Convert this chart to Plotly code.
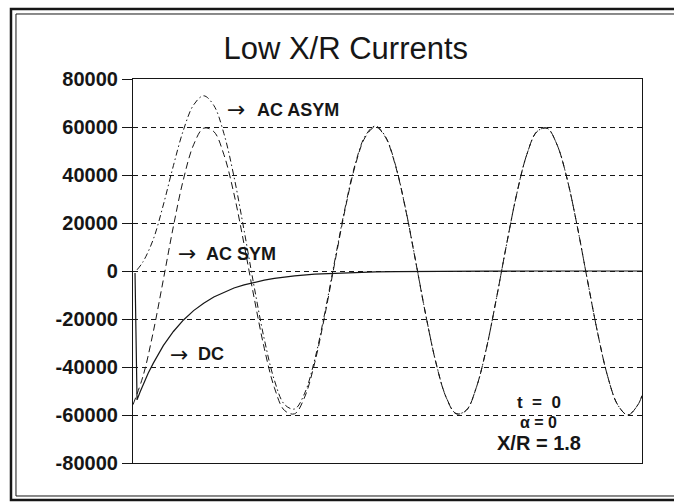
import plotly.graph_objects as go

# time in ms (60 Hz, three cycles shown)
time_ms = [0, 1, 2, 3, 4, 5, 6, 7, 8, 9, 10, 11, 12, 13, 14, 15, 16, 17, 18, 19, 20,
           21, 22, 23, 24, 25, 26, 27, 28, 29, 30, 31, 32, 33, 34, 35, 36, 37, 38, 39, 40,
           41, 42, 43, 44, 45, 46, 47, 48, 49, 50, 50.4]

ac_sym = [-55700, -43700, -25500, -3700, 18600, 38300, 52600, 59500, 58100, 48500, 32100,
          11100, -11300, -32200, -48600, -58100, -59500, -52500, -38100, -18400, 3900,
          25600, 43900, 55800, 60000, 55700, 43700, 25500, 3700, -18600, -38300,
          -52600, -59500, -58100, -48500, -32100, -11100, 11300, 32200, 48600, 58100,
          59500, 52500, 38100, 18400, -3900, -25600, -43900, -55800, -60000, -55700, -51900]

time_asym = [0.4, 1, 2, 3, 4, 5, 6, 7, 8, 9, 10, 11, 12, 13, 14, 15, 16, 17, 18, 19, 20,
             21, 22, 23, 24, 25, 26, 27, 28, 29, 30, 31, 32, 33, 34, 35, 36, 37, 38, 39, 40,
             41, 42, 43, 44, 45, 46, 47, 48, 49, 50, 50.4]

ac_asym = [500, 3900, 13100, 27500, 43900, 58800, 69200, 73000, 69000, 57300, 39300,
           16900, -6600, -28400, -45500, -55600, -57500, -50900, -36800, -17300, 4800,
           26300, 44500, 56300, 60400, 56000, 44000, 25700, 3900, -18500, -38200,
           -52500, -59400, -58000, -48500, -32100, -11100, 11300, 32200, 48600, 58100,
           59500, 52500, 38100, 18400, -3900, -25600, -43900, -55800, -60000, -55700, -51900]

time_dc = [0.2, 0.4, 0.7, 1, 1.5, 2, 3, 4, 5, 6, 7, 8, 9, 10, 11, 12, 13, 14, 15, 16,
           18, 20, 22, 24, 26, 28, 30, 35, 40, 45, 50.4]
dc = [-800, -53700, -50400, -47400, -42600, -38500, -31100, -25200, -20400, -16500,
      -13400, -10800, -8800, -7100, -5800, -4700, -3800, -3100, -2500, -2000,
      -1300, -900, -600, -400, -250, -150, -100, -40, -10, 0, 0]

y_ticks = [-80000, -60000, -40000, -20000, 0, 20000, 40000, 60000, 80000]
y_tick_labels = ["-80000", "-60000", "-40000", "-20000", "0", "20000", "40000", "60000", "80000"]

INK = "#161616"
FONT = "Arial, Liberation Sans, sans-serif"
ARROW_FONT = "DejaVu Sans"

fig = go.Figure()
fig.add_trace(go.Scatter(x=time_ms, y=ac_sym, mode="lines", name="AC SYM",
                         line=dict(color=INK, width=1, dash="7px,4px", shape="spline")))
fig.add_trace(go.Scatter(x=time_asym, y=ac_asym, mode="lines", name="AC ASYM",
                         line=dict(color=INK, width=1, dash="6px,3px,1.5px,3px", shape="spline")))
fig.add_trace(go.Scatter(x=time_dc, y=dc, mode="lines", name="DC",
                         line=dict(color=INK, width=1.2)))

# curve labels: arrow glyph, then the name
labels = [
    (9.1, 12.1, 67100, "AC ASYM"),
    (4.3, 7.0, 7100, "AC SYM"),
    (3.5, 6.2, -34600, "DC"),
]
for xa, xt, y, txt in labels:
    fig.add_annotation(x=xa, y=y, text="→", showarrow=False, xanchor="left", yanchor="middle",
                       font=dict(family=ARROW_FONT, size=22, color=INK))
    fig.add_annotation(x=xt, y=y, text=txt, showarrow=False, xanchor="left", yanchor="middle",
                       font=dict(family=FONT, size=18, color=INK, weight="bold"))

for y, txt, size in [(-54600, "t  =  0", 17), (-63300, "α = 0", 16), (-71700, "X/R = 1.8", 20)]:
    fig.add_annotation(x=40.2, y=y, text=txt, showarrow=False, xanchor="center", yanchor="middle",
                       font=dict(family=FONT, size=size, color=INK, weight="bold"))

# double frame round the whole picture
fig.add_shape(type="rect", xref="paper", yref="paper", x0=-0.2397, x1=1.2, y0=-0.0964, y1=1.1823,
              line=dict(color=INK, width=2.5))
fig.add_shape(type="rect", xref="paper", yref="paper", x0=-0.2299, x1=1.2, y0=-0.0859, y1=1.1693,
              line=dict(color=INK, width=1))

fig.update_layout(
    width=674,
    height=502,
    margin=dict(l=133, r=32, t=79, b=39),
    paper_bgcolor="white",
    plot_bgcolor="white",
    showlegend=False,
    title=dict(text="Low X/R Currents", x=0.513, xanchor="center", y=0.904, yanchor="middle",
               font=dict(family=FONT, size=31, color=INK)),
    xaxis=dict(range=[0, 50.4], showgrid=False, zeroline=False, showticklabels=False,
               ticks="", showline=True, mirror=True, linecolor=INK, linewidth=1.2),
    yaxis=dict(range=[-80000, 80000], tickvals=y_ticks, ticktext=y_tick_labels,
               ticks="outside", ticklen=10, tickcolor=INK, tickwidth=1,
               tickfont=dict(family=FONT, size=20, color=INK, weight="bold"),
               showgrid=True, gridcolor=INK, gridwidth=1, griddash="5px,4px",
               zeroline=False, showline=True, mirror=True, linecolor=INK, linewidth=1.2),
)

fig.write_html("out.html", config={"displayModeBar": False},
               post_script="document.body.style.margin='0';document.body.style.overflow='hidden';")
